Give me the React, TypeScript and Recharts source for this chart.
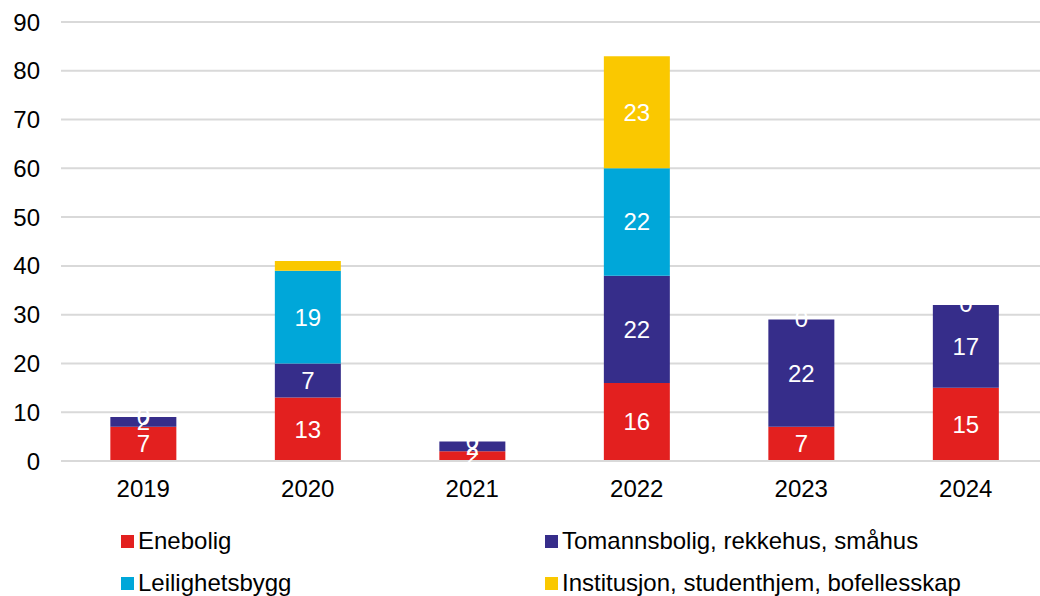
import React from 'react';
import { BarChart, Bar, XAxis, YAxis, CartesianGrid, LabelList } from 'recharts';

const years = ['2019', '2020', '2021', '2022', '2023', '2024'];
const enebolig = [7, 13, 2, 16, 7, 15];
const tomanns = [2, 7, 2, 22, 22, 17];
const leilighet = [0, 19, 0, 22, 0, 0];
const institusjon = [0, 2, 0, 23, 0, 0];
const yTicks = [0, 10, 20, 30, 40, 50, 60, 70, 80, 90];

const series = [
  { key: 'enebolig', name: 'Enebolig', color: '#E3201F', minLabel: 0 },
  { key: 'tomanns', name: 'Tomannsbolig, rekkehus, småhus', color: '#362D8A', minLabel: 0 },
  { key: 'leilighet', name: 'Leilighetsbygg', color: '#00A7D9', minLabel: 0 },
  { key: 'institusjon', name: 'Institusjon, studenthjem, bofellesskap', color: '#FAC800', minLabel: 5 },
];

const data = years.map((year, i) => ({
  year,
  enebolig: enebolig[i],
  tomanns: tomanns[i],
  leilighet: leilighet[i],
  institusjon: institusjon[i],
}));

const FONT = '"Liberation Sans", Arial, sans-serif';

const labelText = (x: number, y: number, v: number | string, key: string) => (
  <text
    key={key}
    x={x}
    y={y}
    fill="#ffffff"
    fontSize={24}
    fontFamily={FONT}
    textAnchor="middle"
    dominantBaseline="central"
  >
    {v}
  </text>
);

const makeLabel = (seriesKey: string, minLabel: number) => (props: any) => {
  const { x, y, width, height, value, index } = props;
  if (value === undefined || value === null || value < minLabel) return null;
  const cx = Number(x) + Number(width) / 2;
  const out = [labelText(cx, Number(y) + Number(height) / 2, value, 'v')];
  // zero-height Leilighetsbygg segments get no bar, so their "0" sits on top of this one
  if (seriesKey === 'tomanns' && leilighet[index] === 0) {
    out.push(labelText(cx, Number(y) - 1, 0, 'z'));
  }
  return <g>{out}</g>;
};

const App: React.FC = () => {
  return (
    <div style={{ position: 'absolute', left: 0, top: 0, width: 1040, height: 596, background: '#fff', overflow: 'hidden', fontFamily: FONT }}>
      <BarChart
        width={1048}
        height={512}
        data={data}
        margin={{ top: 22, right: 0, left: 0, bottom: 0 }}
        barCategoryGap="30%"
      >
        <CartesianGrid vertical={false} stroke="#D9D9D9" strokeWidth={2} />
        <XAxis
          dataKey="year"
          tickLine={false}
          axisLine={{ stroke: '#D9D9D9', strokeWidth: 2 }}
          height={51}
          tickMargin={13}
          tick={{ fill: '#000000', fontSize: 24, fontFamily: FONT }}
        />
        <YAxis
          width={61}
          domain={[0, 90]}
          ticks={yTicks}
          interval={0}
          tickLine={false}
          axisLine={false}
          tickMargin={15}
          tick={{ fill: '#000000', fontSize: 24, fontFamily: FONT }}
        />
        {series.map((s) => (
          <Bar key={s.key} dataKey={s.key} name={s.name} stackId="a" fill={s.color} isAnimationActive={false}>
            <LabelList dataKey={s.key} content={makeLabel(s.key, s.minLabel)} />
          </Bar>
        ))}
      </BarChart>
      {series.map((s, i) => (
        <div
          key={s.key}
          style={{
            position: 'absolute',
            left: i % 2 === 0 ? 121 : 545,
            top: i < 2 ? 526 : 568,
            display: 'flex',
            alignItems: 'center',
            fontSize: 24,
            color: '#000000',
            whiteSpace: 'nowrap',
            lineHeight: '30px',
          }}
        >
          <span style={{ display: 'inline-block', width: 13, height: 13, background: s.color, marginRight: 4, marginTop: 1 }} />
          {s.name}
        </div>
      ))}
    </div>
  );
};

export default App;
